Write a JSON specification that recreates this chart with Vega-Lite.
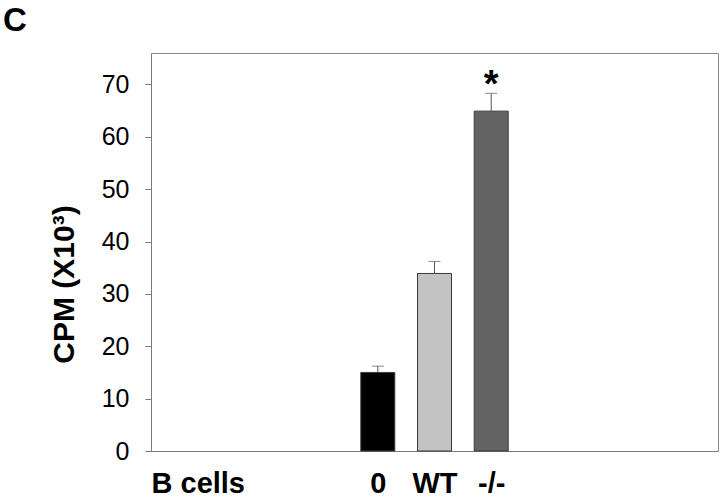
{
  "$schema": "https://vega.github.io/schema/vega-lite/v6.json",
  "width": 567,
  "height": 398,
  "autosize": "none",
  "padding": {"left": 151, "top": 53, "right": 2, "bottom": 47},
  "background": "white",
  "title": {
    "text": "C",
    "anchor": "start",
    "frame": "group",
    "fontSize": 33,
    "fontWeight": "bold",
    "font": "Liberation Sans",
    "color": "black",
    "offset": 15,
    "dx": -148
  },
  "config": {
    "view": {"stroke": "#8a8a8a", "strokeWidth": 1},
    "font": "Liberation Sans"
  },
  "data": {
    "values": [
      {"group": "0", "value": 15, "err": 16.2, "sig": ""},
      {"group": "WT", "value": 33.9, "err": 36.2, "sig": ""},
      {"group": "-/-", "value": 64.9, "err": 68.3, "sig": "*"}
    ]
  },
  "encoding": {
    "x": {
      "field": "group",
      "type": "nominal",
      "scale": {
        "type": "point",
        "padding": 0,
        "domain": ["B cells", "_1", "_2", "_3", "0", "WT", "-/-", "_7", "_8", "_9", "_10"]
      },
      "axis": {
        "values": ["B cells", "0", "WT", "-/-"],
        "title": null,
        "ticks": false,
        "tickSize": 0,
        "labelAngle": 0,
        "labelFont": "Liberation Sans",
        "labelFontSize": 29,
        "labelFontWeight": "bold",
        "labelColor": "black",
        "labelPadding": 18,
        "labelAlign": {"expr": "datum.value == 'B cells' ? 'left' : 'center'"},
        "labelFlush": false,
        "labelOverlap": false,
        "domainColor": "#7a7a7a",
        "grid": false
      }
    }
  },
  "layer": [
    {
      "mark": {"type": "rule", "color": "#555555", "strokeWidth": 1},
      "encoding": {
        "y": {"field": "value", "type": "quantitative"},
        "y2": {"field": "err"}
      }
    },
    {
      "mark": {"type": "tick", "orient": "horizontal", "size": 12, "thickness": 1, "color": "#555555"},
      "encoding": {
        "y": {"field": "err", "type": "quantitative"}
      }
    },
    {
      "mark": {"type": "bar", "width": 34, "stroke": "#3a3a3a", "strokeWidth": 1},
      "encoding": {
        "y": {
          "field": "value",
          "type": "quantitative",
          "scale": {"domain": [0, 76], "nice": false},
          "axis": {
            "values": [0, 10, 20, 30, 40, 50, 60, 70],
            "title": "CPM (X10³)",
            "titleFont": "Liberation Sans",
            "titleFontSize": 30,
            "titleFontWeight": "bold",
            "titleColor": "black",
            "titleAngle": 270,
            "titleX": -78,
            "titleY": 231,
            "titleAlign": "center",
            "titleBaseline": "alphabetic",
            "labelFontSize": 25,
            "labelColor": "black",
            "labelPadding": 16,
            "tickSize": 6,
            "tickColor": "#7a7a7a",
            "domainColor": "#7a7a7a",
            "grid": false
          }
        },
        "color": {
          "field": "group",
          "type": "nominal",
          "scale": {"domain": ["0", "WT", "-/-"], "range": ["#000000", "#c3c3c3", "#636363"]},
          "legend": null
        }
      }
    },
    {
      "mark": {"type": "text", "font": "Liberation Sans", "fontSize": 38, "fontWeight": "bold", "baseline": "alphabetic", "dy": 4, "color": "black"},
      "encoding": {
        "y": {"field": "err", "type": "quantitative"},
        "text": {"field": "sig"}
      }
    }
  ]
}
